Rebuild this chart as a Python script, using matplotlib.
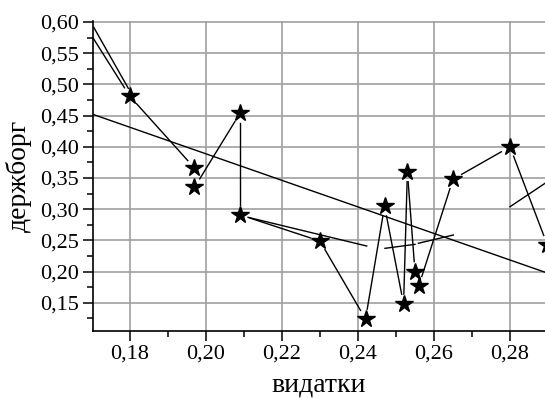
import numpy as np
import matplotlib
matplotlib.use("Agg")
import matplotlib.pyplot as plt
from matplotlib.ticker import MultipleLocator, FuncFormatter

# data
star_x = [0.1655, 0.180, 0.197, 0.197, 0.209, 0.209, 0.230, 0.242, 0.247,
          0.252, 0.253, 0.255, 0.256, 0.265, 0.280, 0.2898]
star_y = [0.621, 0.481, 0.366, 0.335, 0.454, 0.291, 0.249, 0.124, 0.305,
          0.148, 0.360, 0.200, 0.177, 0.348, 0.400, 0.243]

# curved fit, drawn in broken pieces
fit_x = [0.1705, 0.1796, np.nan, 0.2111, 0.2423, np.nan, 0.2471, 0.2550,
         np.nan, 0.2559, 0.2651, np.nan, 0.2800, 0.2892]
fit_y = [0.5915, 0.4937, np.nan, 0.287, 0.241, np.nan, 0.2373, 0.2437,
         np.nan, 0.2454, 0.2587, np.nan, 0.304, 0.3415]

# linear trend
trend_x = [0.1703, 0.2892]
trend_y = [0.452, 0.199]

plt.rcParams['font.family'] = ['Liberation Serif', 'DejaVu Serif']

fig = plt.figure(figsize=(5.45, 3.99), dpi=100)
ax = fig.add_axes([0.1706, 0.1704, 0.8294, 0.7769])
ax.set_xlim(0.1703, 0.2892)
ax.set_ylim(0.1048, 0.6016)

ax.xaxis.set_major_locator(MultipleLocator(0.02))
ax.xaxis.set_minor_locator(MultipleLocator(0.01))
ax.yaxis.set_major_locator(MultipleLocator(0.05))
ax.yaxis.set_minor_locator(MultipleLocator(0.025))
comma = FuncFormatter(lambda v, p: f"{v:.2f}".replace('.', ','))
ax.xaxis.set_major_formatter(comma)
ax.yaxis.set_major_formatter(comma)

ax.grid(True, which='major', color='#a0a0a0', lw=1.2, zorder=0)
ax.set_axisbelow(True)
for s in ['top', 'right']:
    ax.spines[s].set_visible(False)
for s in ['left', 'bottom']:
    ax.spines[s].set_linewidth(1.2)
ax.tick_params(which='major', direction='out', length=7, width=1.1,
               labelsize=16, pad=3)
ax.tick_params(which='minor', direction='out', length=4, width=1.1)

# trend line and fitted curve
ax.plot(trend_x, trend_y, color='black', lw=1.0, zorder=2)
ax.plot(fit_x, fit_y, color='black', lw=1.0, zorder=2)

# star series: segments stop short of each symbol
gap = 10
T = ax.transData
pts = T.transform(np.column_stack([star_x, star_y]))
for p, q in zip(pts[:-1], pts[1:]):
    d = q - p
    L = np.hypot(*d)
    if L <= 2 * gap:
        continue
    u = d / L
    seg = T.inverted().transform(np.array([p + u * gap, q - u * gap]))
    ax.plot(seg[:, 0], seg[:, 1], color='black', lw=1.0, zorder=2)
ax.plot(star_x, star_y, ls='none', marker='*', ms=13, color='black', zorder=3)

ax.set_xlabel('видатки', fontsize=20, labelpad=6)
ax.set_ylabel('держборг', fontsize=20, labelpad=6)

fig.savefig('out.png', dpi=100)
